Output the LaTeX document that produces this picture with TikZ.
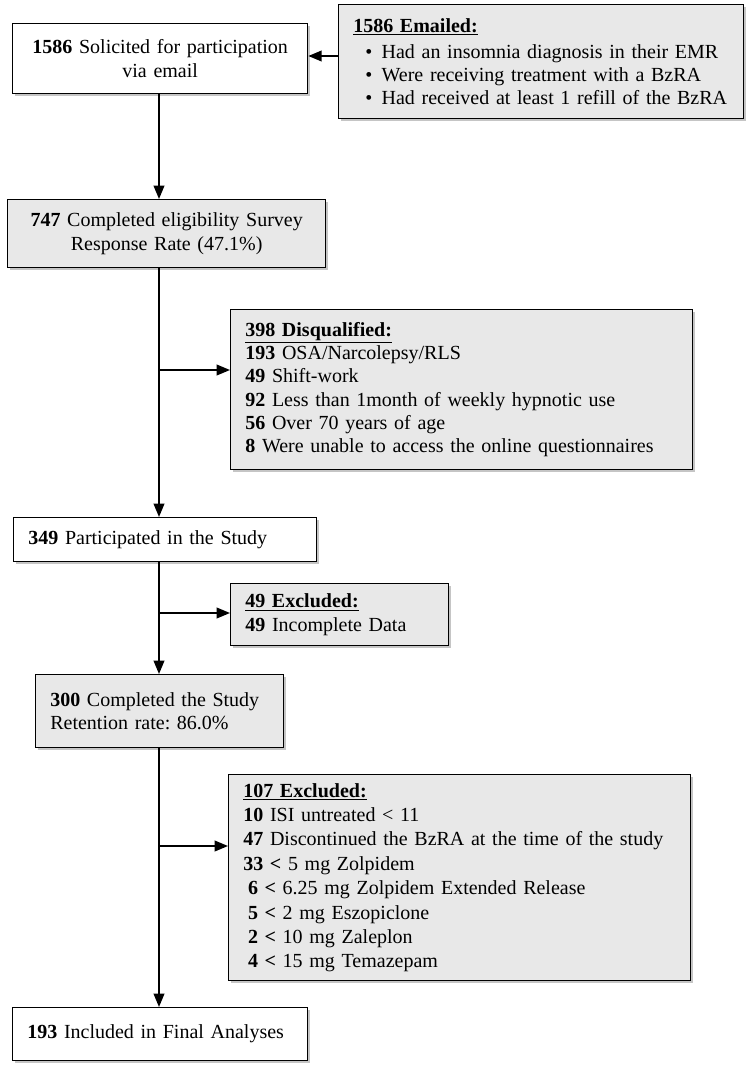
\documentclass[tikz,border=0pt]{standalone}
\usepackage{fontspec}
\setmainfont{Liberation Serif}
\usetikzlibrary{arrows.meta,shadows}
\frenchspacing

\begin{document}
\begin{tikzpicture}
  [x=0.75pt, y=-0.75pt,
    every node/.style={font=\fontsize{15}{17.5}\selectfont},
    flowbox/.style={draw, rectangle, line width=1pt, anchor=north west,
      inner xsep=11pt, inner ysep=0pt,
      drop shadow={shadow xshift=2pt, shadow yshift=-2pt, fill=black!45, opacity=0.5}},
    whitebox/.style={flowbox, fill=white},
    graybox/.style={flowbox, fill=black!9},
    flow/.style={line width=1.3pt, -{Triangle[length=10pt, width=8pt]}},
  ]

  \useasboundingbox (0,0) rectangle (750,1067);

  \coordinate (spine) at (159,0);

  \node[whitebox, text width=199.25pt, align=center, minimum height=52.5pt] (solicit) at (12,23)
    {\textbf{1586} Solicited for participation\\via email};
  \node[graybox, text width=281.75pt, align=left, minimum height=85.5pt] (emailed) at (338,4)
    {\underline{\textbf{1586 Emailed:}}\\[2pt]
      \hspace*{9pt}\textbullet\hspace*{7pt}Had an insomnia diagnosis in their EMR\\
      \hspace*{9pt}\textbullet\hspace*{7pt}Were receiving treatment with a BzRA\\
      \hspace*{9pt}\textbullet\hspace*{7pt}Had received at least 1 refill of the BzRA};
  \node[graybox, text width=216.5pt, align=center, minimum height=51pt] (survey) at (7,199)
    {\textbf{747} Completed eligibility Survey\\Response Rate (47.1\%)};
  \node[graybox, text width=324.5pt, align=left, minimum height=120pt] (disq) at (230,309)
    {\underline{\textbf{398 Disqualified:}}\\
      \textbf{193} OSA/Narcolepsy/RLS\\
      \textbf{49} Shift-work\\
      \textbf{92} Less than 1month of weekly hypnotic use\\
      \textbf{56} Over 70 years of age\\
      \textbf{8} Were unable to access the online questionnaires};
  \node[whitebox, text width=205.25pt, align=left, minimum height=33pt] (particip) at (13,517)
    {\textbf{349} Participated in the Study};
  \node[graybox, text width=141.5pt, align=left, minimum height=46.5pt] (excl1) at (230,583)
    {\underline{\textbf{49 Excluded:}}\\
      \textbf{49} Incomplete Data};
  \node[graybox, text width=164pt, align=left, minimum height=54.75pt] (complete) at (35,674)
    {\textbf{300} Completed the Study\\Retention rate: 86.0\%};
  \node[graybox, text width=324.5pt, align=left, minimum height=154.5pt,
    font=\fontsize{15}{18.3}\selectfont] (excl2) at (228,774)
    {\underline{\textbf{107 Excluded:}}\\
      \textbf{10} ISI untreated < 11\\
      \textbf{47} Discontinued the BzRA at the time of the study\\
      \textbf{33 <} 5 mg Zolpidem\\
      \hspace*{3.5pt}\textbf{6 <} 6.25 mg Zolpidem Extended Release\\
      \hspace*{3.5pt}\textbf{5 <} 2 mg Eszopiclone\\
      \hspace*{3.5pt}\textbf{2 <} 10 mg Zaleplon\\
      \hspace*{3.5pt}\textbf{4 <} 15 mg Temazepam};
  \node[whitebox, text width=199.25pt, align=left, minimum height=39.75pt] (final) at (12,1007)
    {\textbf{193} Included in Final Analyses};

  \coordinate (j0) at (338,56);
  \coordinate (j1) at (159,370);
  \coordinate (j2) at (159,613);
  \coordinate (j3) at (159,846);

  \draw[flow] (j0) -- (j0 -| solicit.east);
  \draw[flow] (solicit.south -| spine) -- (survey.north -| spine);
  \draw[flow] (survey.south -| spine) -- (particip.north -| spine);
  \draw[flow] (j1) -- (j1 -| disq.west);
  \draw[flow] (particip.south -| spine) -- (complete.north -| spine);
  \draw[flow] (j2) -- (j2 -| excl1.west);
  \draw[flow] (complete.south -| spine) -- (final.north -| spine);
  \draw[flow] (j3) -- (j3 -| excl2.west);
\end{tikzpicture}
\end{document}
